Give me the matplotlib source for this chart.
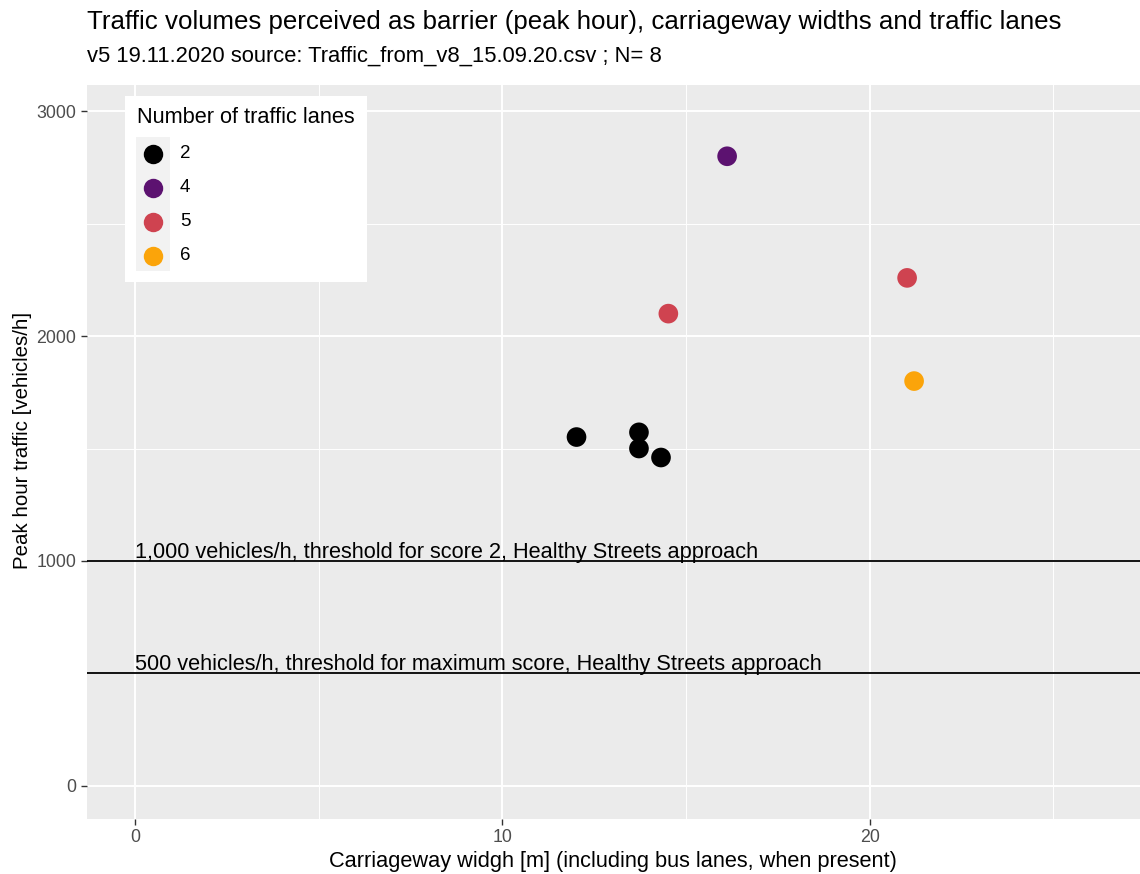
import matplotlib
matplotlib.use("Agg")
import matplotlib.pyplot as plt
from matplotlib.patches import Rectangle

plt.rcParams['font.family'] = ['Liberation Sans', 'DejaVu Sans']

# Street segments: carriageway width, peak hour traffic and number of lanes
width_m = [12.02, 13.72, 13.72, 14.32, 16.12, 14.52, 21.02, 21.21]
peak_traffic = [1551, 1572, 1500, 1460, 2800, 2100, 2259, 1800]
lanes = [2, 2, 2, 2, 4, 5, 5, 6]

lane_levels = [2, 4, 5, 6]
lane_colors = ['#000000', '#5C1270', '#CF4350', '#FBA40A']

thresholds = [1000, 500]
threshold_labels = [
    "1,000 vehicles/h, threshold for score 2, Healthy Streets approach",
    "500 vehicles/h, threshold for maximum score, Healthy Streets approach",
]

x_ticks = [0, 10, 20]
y_ticks = [0, 1000, 2000, 3000]

W, H = 1140, 874
fig = plt.figure(figsize=(W / 100, H / 100), dpi=100)


def fx(px):
    return px / W


def fy(py):
    return 1 - py / H


ax = fig.add_axes([fx(86.5), fy(819), (W - 86.5) / W, (819 - 85) / H])

ax.set_facecolor('#EBEBEB')
for s in ax.spines.values():
    s.set_visible(False)

ax.set_xlim(-1.32, 27.36)
ax.set_ylim(-148, 3117)

ax.set_xticks(x_ticks)
ax.set_yticks(y_ticks)
ax.set_xticks([5, 15, 25], minor=True)
ax.set_yticks([500, 1500, 2500], minor=True)
ax.grid(which='major', color='white', linewidth=1.4)
ax.grid(which='minor', color='white', linewidth=0.7)
ax.set_axisbelow(True)
ax.tick_params(which='major', length=4.5, width=1, color='#333333',
               labelcolor='#4D4D4D', labelsize=12.8, pad=3)
ax.tick_params(which='minor', length=0)

color_of = dict(zip(lane_levels, lane_colors))
ax.scatter(width_m, peak_traffic, c=[color_of[l] for l in lanes],
           s=200, linewidths=0, zorder=3)

for yv, label in zip(thresholds, threshold_labels):
    ax.axhline(yv, color='black', linewidth=1.3, zorder=2)
    ax.text(0, yv + 15, label, ha='left', va='baseline', fontsize=15.7,
            color='black', zorder=4)

ax.set_xlabel("Carriageway widgh [m] (including bus lanes, when present)",
              fontsize=15.7, labelpad=3)
ax.set_ylabel("Peak hour traffic [vehicles/h]", fontsize=14.8)
ax.yaxis.label.set_va('center')
ax.yaxis.set_label_coords((23 - 86.5) / (W - 86.5), (819 - 440) / (819 - 85))

fig.text(fx(87), fy(22),
         "Traffic volumes perceived as barrier (peak hour), carriageway widths and traffic lanes",
         fontsize=18.6, ha='left', va='center')
fig.text(fx(87), fy(56),
         "v5 19.11.2020 source: Traffic_from_v8_15.09.20.csv ; N= 8",
         fontsize=15.8, ha='left', va='center')

# Legend box for the lane colour scale
fig.patches.append(Rectangle((fx(125), fy(282)), (367 - 125) / W, (282 - 96) / H,
                             transform=fig.transFigure, facecolor='white',
                             edgecolor='none', zorder=5))
fig.patches.append(Rectangle((fx(136), fy(271)), (169.5 - 136) / W, (271 - 137) / H,
                             transform=fig.transFigure, facecolor='#F2F2F2',
                             edgecolor='none', zorder=6))
fig.text(fx(137), fy(117), "Number of traffic lanes", fontsize=15.7,
         ha='left', va='center', zorder=7)
for i, (lvl, col) in enumerate(zip(lane_levels, lane_colors)):
    ky = 154 + 34 * i
    fig.add_artist(plt.Line2D([fx(152.7)], [fy(ky)], marker='o', markersize=14,
                              markerfacecolor=col, markeredgewidth=0,
                              linestyle='', transform=fig.transFigure, zorder=7))
    fig.text(fx(180), fy(ky), str(lvl), fontsize=13.5, ha='left', va='center',
             zorder=7)

fig.savefig("out.png", dpi=100)
